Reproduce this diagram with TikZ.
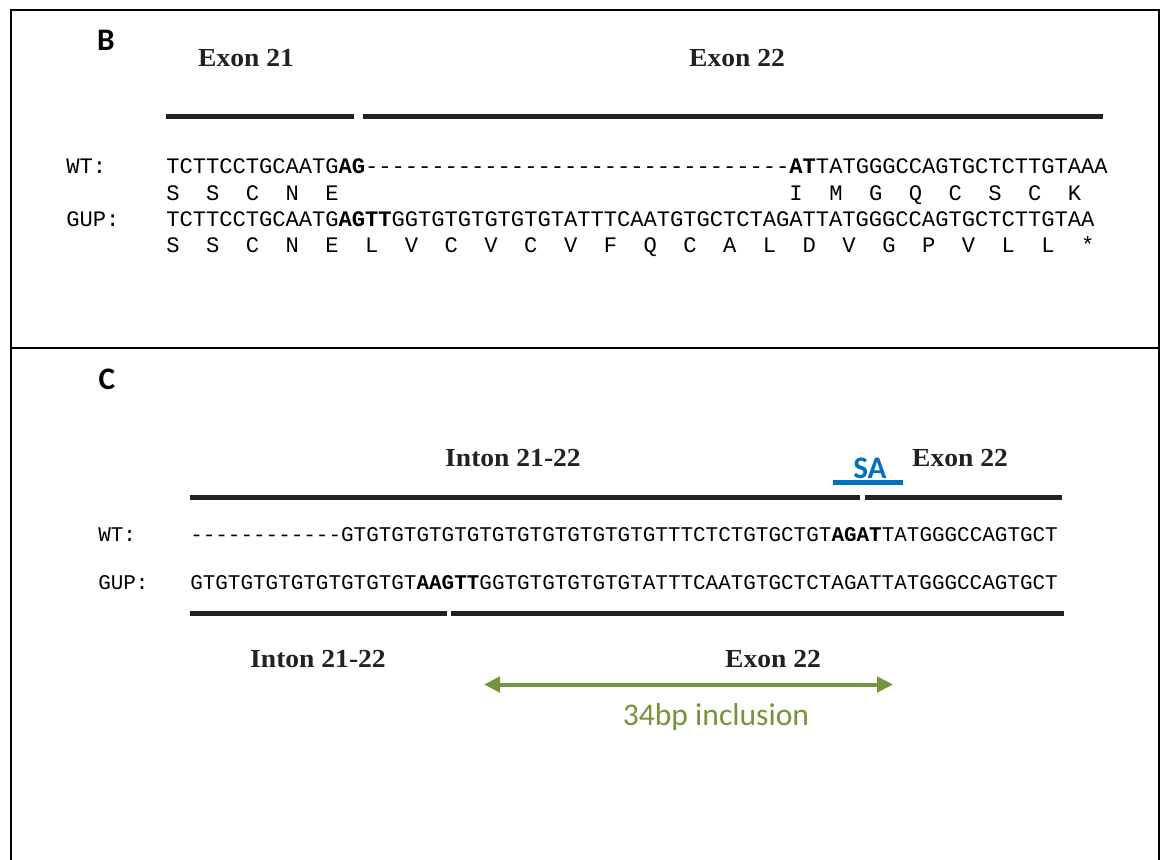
\documentclass[tikz,border=0pt]{standalone}
\usepackage{fontspec}
\setmainfont{Liberation Serif}
\setmonofont{Liberation Mono}
\newfontfamily\panelfont{Carlito}
\newfontfamily\exonfont[FakeStretch=1.06]{Liberation Serif}
\usetikzlibrary{arrows.meta}

\definecolor{barcol}{HTML}{222222}
\definecolor{sablue}{HTML}{0070C0}
\definecolor{incgreen}{HTML}{77933C}

% fixed-pitch sequence setting: every character sits in a box of width \pitch,
% a '.' leaves its box empty
\newlength\pitch
\def\sqloop#1{\ifx\relax#1\else\makebox[\pitch][c]{\ifx.#1\else#1\fi}\expandafter\sqloop\fi}
\newcommand\sq[1]{\sqloop#1\relax}
\newcommand\seqfontB{\fontsize{16.6}{18}\selectfont\ttfamily\setlength\pitch{9.945pt}}
\newcommand\seqfontC{\fontsize{15.7}{18}\selectfont\ttfamily\setlength\pitch{9.43pt}}

\begin{document}
\begin{tikzpicture}[x=0.75pt,y=-0.75pt,
  frame/.style={line width=1.5pt,black},
  exonbar/.style={line width=3.75pt,barcol},
  exonlbl/.style={inner sep=0,text=barcol,font=\exonfont\fontsize{19.5}{22}\selectfont\bfseries},
  panellbl/.style={inner sep=0,font=\panelfont\fontsize{23.5}{26}\selectfont\bfseries},
  seqB/.style={anchor=base west,inner sep=0,font=\seqfontB},
  seqC/.style={anchor=base west,inner sep=0,font=\seqfontC},
]
\useasboundingbox (0,0) rectangle (1160,860);

% frame of the two panels
\draw[frame] (11,870) -- (11,10) -- (1159,10) -- (1159,870);
\draw[frame] (11,348) -- (1159,348);

% ---------- panel B ----------
\node[panellbl] (pB) at (106,40.5) {B};

\node[exonlbl] (ex21) at (246,58.5) {Exon 21};
\node[exonlbl] (ex22B) at (737,58) {Exon 22};
\coordinate (b1s) at (166,116.5); \coordinate (b1e) at (354,116.5);
\coordinate (b2s) at (363,116.5); \coordinate (b2e) at (1103,116.5);
\draw[exonbar] (b1s) -- (b1e);
\draw[exonbar] (b2s) -- (b2e);

\node[seqB] (lwtB) at (66,173.5) {\sq{WT:}};
\node[seqB] (lgupB) at (66,226) {\sq{GUP:}};

\node[seqB] (wtB) at (166,173.5)
  {\sq{TCTTCCTGCAATG}{\bfseries\sq{AG}}\sq{--------------------------------}{\bfseries\sq{AT}}\sq{TATGGGCCAGTGCTCTTGTAAA}};
\node[seqB] (aa1B) at (166,200.5)
  {\sq{S..S..C..N..E..................................I..M..G..Q..C..S..C..K}};
\node[seqB] (gupB) at (166,226)
  {\sq{TCTTCCTGCAATG}{\bfseries\sq{AGTT}}\sq{GGTGTGTGTGTGTATTTCAATGTGCTCTAGATTATGGGCCAGTGCTCTTGTAA}};
\node[seqB] (aa2B) at (166,252.5)
  {\sq{S..S..C..N..E..L..V..C..V..C..V..F..Q..C..A..L..D..V..G..P..V..L..L..*}};

% ---------- panel C ----------
\node[panellbl] (pC) at (107,379.5) {C};

\node[exonlbl] (intTop) at (513,458.5) {Inton 21-22};
\node[exonlbl] (ex22Top) at (960,458.5) {Exon 22};
\node[panellbl,text=sablue] (sa) at (870,468) {SA};
\coordinate (sas) at (833,482.5); \coordinate (sae) at (903,482.5);
\draw[line width=3.75pt,sablue] (sas) -- (sae);

\coordinate (t1s) at (190,497.5); \coordinate (t1e) at (860,497.5);
\coordinate (t2s) at (865,497.5); \coordinate (t2e) at (1062,497.5);
\draw[exonbar] (t1s) -- (t1e);
\draw[exonbar] (t2s) -- (t2e);

\node[seqC] (lwtC) at (98,541.5) {\sq{WT:}};
\node[seqC] (lgupC) at (98,589) {\sq{GUP:}};

\node[seqC] (wtC) at (190,541.5)
  {\sq{------------GTGTGTGTGTGTGTGTGTGTGTGTGTTTCTCTGTGCTGT}{\bfseries\sq{AGAT}}\sq{TATGGGCCAGTGCT}};
\node[seqC] (gupC) at (190,589)
  {\sq{GTGTGTGTGTGTGTGTGT}{\bfseries\sq{AAGTT}}\sq{GGTGTGTGTGTGTATTTCAATGTGCTCTAGATTATGGGCCAGTGCT}};

\coordinate (u1s) at (190,613); \coordinate (u1e) at (447,613);
\coordinate (u2s) at (451,613); \coordinate (u2e) at (1064,613);
\draw[exonbar] (u1s) -- (u1e);
\draw[exonbar] (u2s) -- (u2e);

\node[exonlbl] (intBot) at (318,659.5) {Inton 21-22};
\node[exonlbl] (ex22Bot) at (773,659.5) {Exon 22};

% 34 bp inclusion span
\coordinate (incL) at (484,684.5);
\coordinate (incR) at (893,684.5);
\draw[incgreen,line width=3pt,{Triangle[length=12pt,width=11.5pt]}-{Triangle[length=12pt,width=11.5pt]}] (incL) -- (incR);
\node[anchor=base,inner sep=0,text=incgreen,font=\panelfont\fontsize{23.7}{28}\selectfont] (inc) at (716,725) {34bp inclusion};

\end{tikzpicture}
\end{document}
